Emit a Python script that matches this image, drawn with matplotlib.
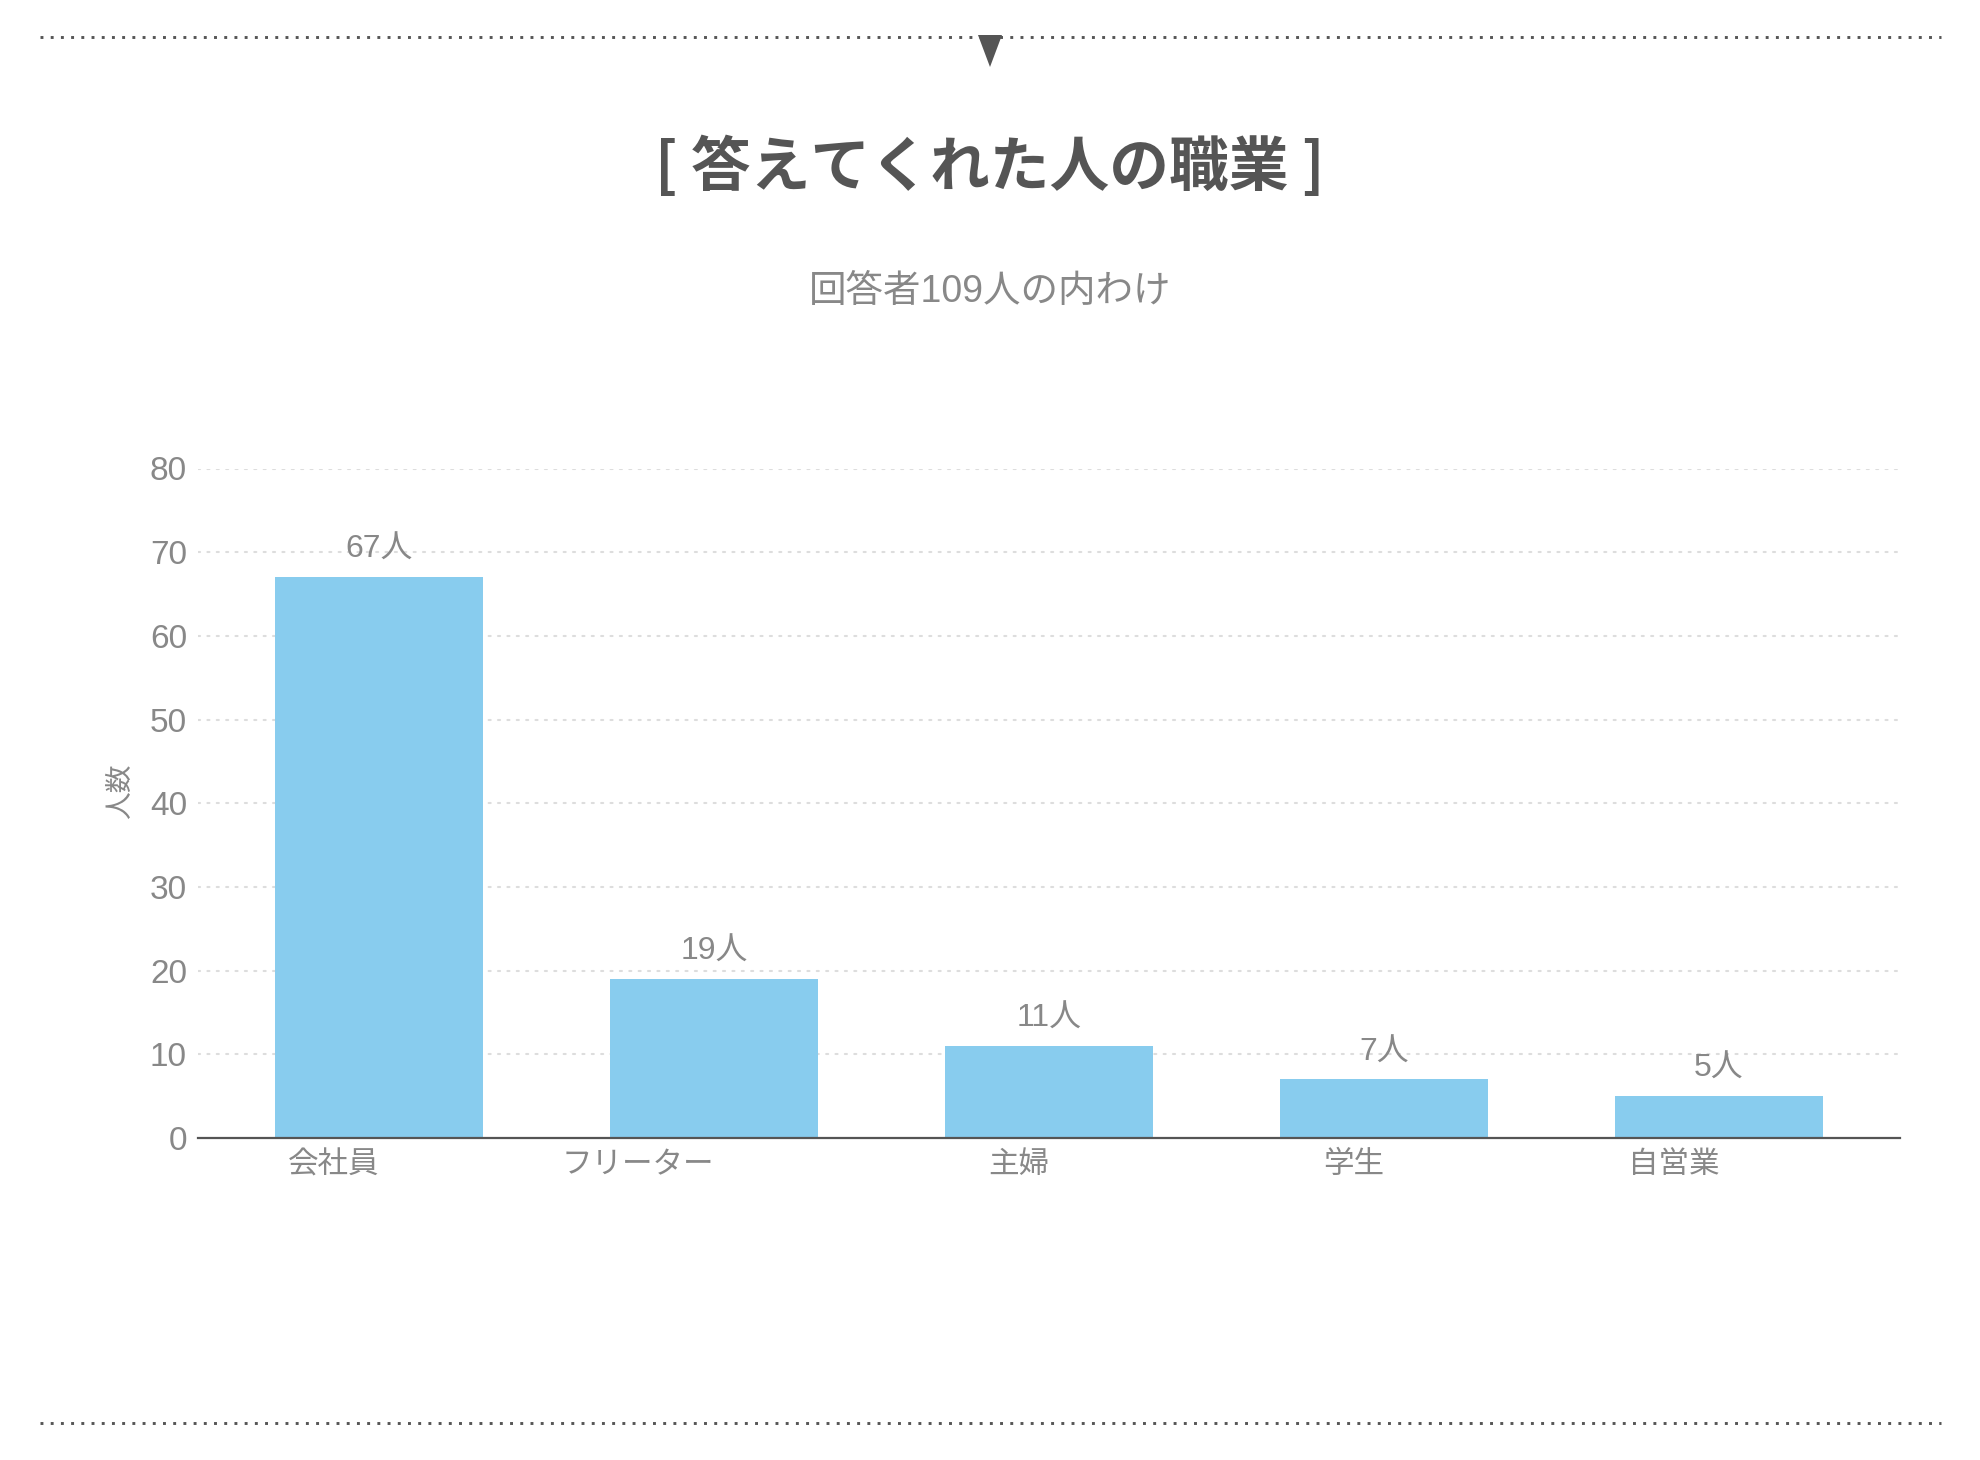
import matplotlib
matplotlib.use("Agg")
import matplotlib.pyplot as plt
from matplotlib.lines import Line2D
from matplotlib.patches import Polygon

plt.rcParams['font.family'] = ['Noto Sans CJK JP', 'DejaVu Sans']
LAT = ['Liberation Sans', 'Noto Sans CJK JP']

categories = ["会社員", "フリーター", "主婦", "学生", "自営業"]
values = [67, 19, 11, 7, 5]
value_labels = ["67人", "19人", "11人", "7人", "5人"]
yticks = [0, 10, 20, 30, 40, 50, 60, 70, 80]
title = "[ 答えてくれた人の職業 ]"
subtitle = "回答者109人の内わけ"
ylabel = "人数"

W, H = 1980, 1460
fig = plt.figure(figsize=(W / 100, H / 100), dpi=100)
fig.patch.set_facecolor("white")

def fx(px):
    return px / W

def fy(py):
    return 1 - py / H

ax = fig.add_axes([fx(198), fy(1138), fx(1900) - fx(198), fy(468.5) - fy(1138)])
x = list(range(len(categories)))
ax.bar(x, values, width=0.62, color="#88CCEE", zorder=3)
ax.set_xlim(-0.54, 4.54)
ax.set_ylim(0, 80)
ax.set_yticks(yticks)
ax.set_yticklabels([str(t) for t in yticks], family=LAT)
ax.set_xticks(x)
ax.set_xticklabels(categories, ha="right")
ax.tick_params(axis="both", length=0, colors="#888888")
ax.tick_params(axis="y", pad=8, labelsize=24)
ax.tick_params(axis="x", pad=8, labelsize=22)
for t in ax.get_xticklabels():
    t.set_color("#888888")
for t in ax.get_yticklabels():
    t.set_color("#888888")

for s in ["top", "right", "left"]:
    ax.spines[s].set_visible(False)
ax.spines["bottom"].set_color("#555555")
ax.spines["bottom"].set_linewidth(1.6)
ax.spines["bottom"].set_zorder(4)

for t in yticks[1:]:
    ax.axhline(t, color="#dddddd", linewidth=1.5, linestyle=(0, (1, 3.5)),
               dash_capstyle="round", zorder=1)

for xi, v, lab in zip(x, values, value_labels):
    ax.annotate(lab, (xi, v), xytext=(0, 19.5), textcoords="offset points",
                ha="center", va="center", fontsize=23, color="#888888", family=LAT)

fig.text(fx(120), fy(791), ylabel, rotation=90, ha="center", va="center",
         fontsize=20, color="#888888")

fig.text(fx(990), fy(168), title, ha="center", va="center", fontsize=43,
         fontweight="bold", color="#555555")
fig.text(fx(990), fy(292), subtitle, ha="center", va="center", fontsize=27,
         color="#888888", family=LAT)

for py in (36.6, 1423):
    fig.add_artist(Line2D([fx(40), fx(1941)], [fy(py), fy(py)], color="#555555",
                          linewidth=2.1, linestyle=(0, (1, 2.5)), dash_capstyle="butt"))
fig.add_artist(Polygon([[fx(978), fy(35)], [fx(1002), fy(35)], [fx(990), fy(67)]],
                       closed=True, facecolor="#555555", edgecolor="none"))

fig.savefig("out.png", dpi=100, facecolor="white")
